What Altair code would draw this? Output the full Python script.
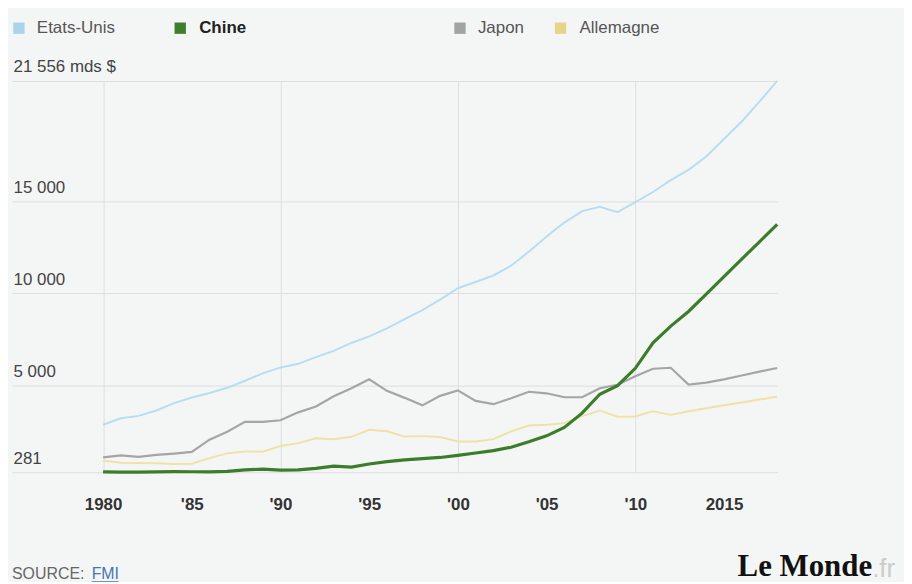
import json
import altair as alt
import pandas as pd

# ---------------- data ----------------
years = list(range(1980, 2019))
us = [2862, 3211, 3345, 3638, 4041, 4347, 4590, 4870, 5253, 5658,
      5980, 6174, 6539, 6879, 7309, 7664, 8100, 8609, 9089, 9661,
      10285, 10622, 10978, 11511, 12275, 13094, 13856, 14478, 14719, 14419,
      14964, 15518, 16163, 16724, 17450, 18400, 19350, 20430, 21556]
china = [303, 290, 281, 301, 310, 306, 297, 323, 404, 451,
         390, 409, 488, 613, 559, 728, 856, 953, 1019, 1083,
         1198, 1325, 1454, 1641, 1932, 2257, 2713, 3494, 4520, 4991,
         5930, 7322, 8227, 9020, 9970, 10920, 11870, 12810, 13760]
japan = [1087, 1201, 1117, 1219, 1295, 1385, 2051, 2485, 3016, 3018,
         3104, 3536, 3853, 4415, 4850, 5334, 4706, 4324, 3915, 4433,
         4731, 4160, 3981, 4303, 4656, 4572, 4357, 4356, 4849, 5035,
         5495, 5906, 5960, 5045, 5150, 5330, 5540, 5750, 5950]
germany = [920, 801, 776, 770, 726, 741, 1049, 1305, 1403, 1399,
           1705, 1862, 2124, 2068, 2206, 2591, 2504, 2218, 2243, 2200,
           1950, 1945, 2080, 2505, 2820, 2860, 2950, 3330, 3640, 3300,
           3310, 3600, 3400, 3600, 3760, 3920, 4070, 4230, 4400]

series_names = ["Etats-Unis", "Chine", "Japon", "Allemagne"]
x_tick_values = [1980, 1985, 1990, 1995, 2000, 2005, 2010, 2015]
x_tick_labels = ["1980", "'85", "'90", "'95", "'00", "'05", "'10", "2015"]
y_tick_values = [281, 5000, 10000, 15000, 21556]
y_tick_labels = ["281", "5 000", "10 000", "15 000", "21 556 mds $"]
source_label = "SOURCE:"
source_link = "FMI"
brand = "Le Monde"
brand_suffix = ".fr"

# ---------------- styles ----------------
FONT = "Liberation Sans"
BG = "#f4f6f6"
GRID = "#dcdedf"
line_colors = {"Etats-Unis": "#b9ddf0", "Chine": "#3c7d2a",
               "Japon": "#a5a5a5", "Allemagne": "#efe2a6"}
line_widths = {"Etats-Unis": 2, "Chine": 3.2, "Japon": 2.2, "Allemagne": 2}
draw_order = ["Etats-Unis", "Allemagne", "Japon", "Chine"]
legend_colors = ["#a9d4ec", "#3e7f2c", "#a3a3a3", "#e6d488"]
legend_weights = ["normal", "bold", "normal", "normal"]
legend_text_colors = ["#555555", "#222222", "#555555", "#555555"]
legend_square_x = [7, 169, 450, 551]
legend_text_x = [25, 188, 468, 570]
legend_y = -53
x_domain = [1974.865, 2018.02]
y_domain = [281, 21556]

df = pd.DataFrame({
    "year": years * 4,
    "value": us + china + japan + germany,
    "pays": [n for n in series_names for _ in years],
})


def label_expr(values, labels):
    s = json.dumps(labels[-1])
    for v, l in zip(reversed(values[:-1]), reversed(labels[:-1])):
        s = f"datum.value == {v} ? {json.dumps(l)} : ({s})"
    return s


x_enc = alt.X(
    "year:Q",
    scale=alt.Scale(domain=x_domain, nice=False, zero=False),
    axis=alt.Axis(
        values=x_tick_values, labelExpr=label_expr(x_tick_values, x_tick_labels),
        title=None, domain=False, ticks=False, tickSize=0,
        labelPadding=32, labelBaseline="middle", labelFontWeight="bold",
        labelFont=FONT, labelFontSize=17, labelColor="#333333",
        labelFlush=False, labelOverlap=False,
        grid=True, gridColor=GRID, gridWidth=1,
        gridOpacity={"condition": {"test": "datum.value % 10 == 0", "value": 1}, "value": 0},
    ),
)
y_enc = alt.Y(
    "value:Q",
    scale=alt.Scale(domain=y_domain, nice=False, zero=False),
    axis=alt.Axis(
        values=y_tick_values, labelExpr=label_expr(y_tick_values, y_tick_labels),
        title=None, domain=False, ticks=False, tickSize=0,
        labelAlign="left", labelPadding=-1, labelBaseline="alphabetic", labelOffset=-9,
        labelFont=FONT, labelFontSize=17, labelColor="#444444",
        labelFlush=False, labelOverlap=False,
        grid=True, gridColor=GRID, gridWidth=1,
    ),
)

layers = []
for name in draw_order:
    layers.append(
        alt.Chart(df).transform_filter(alt.datum.pays == name)
        .mark_line(color=line_colors[name], strokeWidth=line_widths[name])
        .encode(x=x_enc, y=y_enc)
    )

# legend
for i, name in enumerate(series_names):
    d = pd.DataFrame({"label": [name]})
    layers.append(
        alt.Chart(d).mark_square(color=legend_colors[i], size=130, opacity=1)
        .encode(x=alt.value(legend_square_x[i]), y=alt.value(legend_y))
    )
    layers.append(
        alt.Chart(d).mark_text(align="left", baseline="middle", font=FONT, fontSize=17,
                               fontWeight=legend_weights[i], color=legend_text_colors[i])
        .encode(x=alt.value(legend_text_x[i]), y=alt.value(legend_y), text="label:N")
    )

# footer
src = pd.DataFrame({"a": [source_label], "b": [source_link], "c": [brand], "d": [brand_suffix]})
layers.append(
    alt.Chart(src).mark_text(align="left", baseline="middle", font=FONT, fontSize=16, color="#666666")
    .encode(x=alt.value(0), y=alt.value(495), text="a:N")
)
layers.append(
    alt.Chart(src).mark_text(align="left", baseline="middle", font=FONT, fontSize=16, color="#4a74b0")
    .encode(x=alt.value(80), y=alt.value(495), text="b:N")
)
layers.append(
    alt.Chart(src).mark_rule(color="#4a74b0", strokeWidth=1)
    .encode(x=alt.value(80), x2=alt.value(107), y=alt.value(503))
)
layers.append(
    alt.Chart(src).mark_text(align="right", baseline="middle", font="Liberation Serif", fontSize=31,
                             fontWeight="bold", color="#111111")
    .encode(x=alt.value(864), y=alt.value(488), text="c:N")
)
layers.append(
    alt.Chart(src).mark_text(align="left", baseline="middle", font=FONT, fontSize=26, color="#c9cccc")
    .encode(x=alt.value(864), y=alt.value(490), text="d:N")
)

chart = alt.layer(*layers).properties(
    width=769, height=393,
    autosize=alt.AutoSizeParams(type="none"),
    padding={"left": 4, "top": 72, "right": 127, "bottom": 109},
    background=BG,
).configure_view(stroke=None)

chart.save("out.html", embed_options={"renderer": "svg", "actions": False})
